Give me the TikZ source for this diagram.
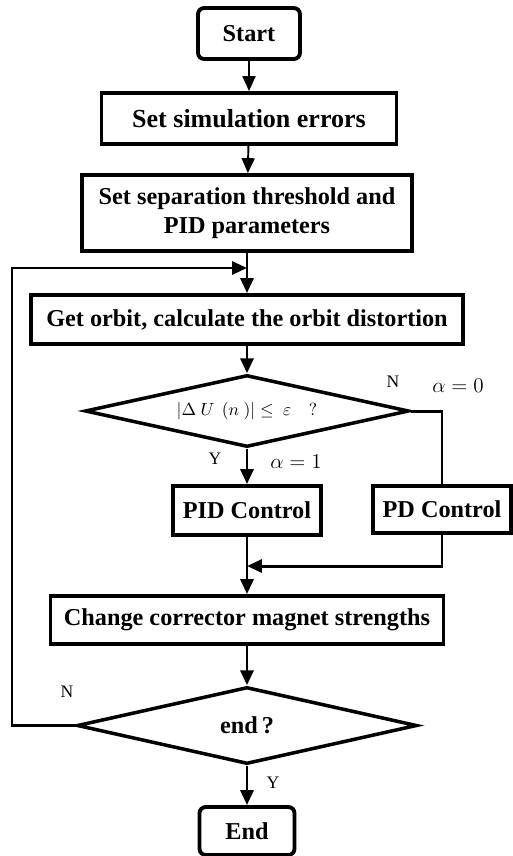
\documentclass[tikz,border=0pt]{standalone}
\usepackage{fontspec}
\setmainfont{Liberation Serif}
\usetikzlibrary{shapes.geometric,arrows.meta}

\begin{document}
\begin{tikzpicture}[x=0.02cm,y=-0.02cm,
    box/.style={draw, line width=2.2pt, inner sep=0pt, align=center,
        font=\fontsize{13.8}{16.5}\selectfont\bfseries},
    term/.style={box, rounded corners=3.5pt},
    cond/.style={diamond, draw, line width=2pt, inner sep=0pt, aspect=4.5},
    arr/.style={line width=1.7pt, -{Triangle[width=7.4pt,length=8.5pt]}},
    lbl/.style={font=\fontsize{10}{12}\selectfont},
    mlbl/.style={font=\fontsize{12.5}{14}\selectfont},
    ]
\useasboundingbox (0,0) rectangle (512,856);

% main column
\node[term, minimum width=2.04cm, minimum height=1.02cm] (start) at (249,33.5) {Start};
\node[box, minimum width=5.9cm, minimum height=1.02cm, font=\fontsize{14.8}{17}\selectfont\bfseries]
    (sim) at (249,118.5) {Set simulation errors};
\node[box, minimum width=6.6cm, minimum height=1.52cm] (thr) at (247,213)
    {Set separation threshold and\\PID parameters};
\node[box, minimum width=8.64cm, minimum height=0.98cm] (orbit) at (247,319.5)
    {Get orbit, calculate the orbit distortion};
\node[cond, minimum width=6.48cm, minimum height=1.44cm] (dec1) at (247,411)
    {\fontsize{10}{11}\selectfont$|\Delta\ U\ \,(n\ )|\le\ \varepsilon\quad ?$};
\node[box, minimum width=2.96cm, minimum height=0.98cm] (pid) at (247,510.5) {PID Control};
\node[box, minimum width=2.76cm, minimum height=0.94cm] (pd) at (442,509.5) {PD Control};
\node[box, minimum width=7.86cm, minimum height=0.96cm] (chg) at (247,620)
    {Change corrector magnet strengths};
\node[cond, minimum width=6.8cm, minimum height=1.54cm, font=\fontsize{13.8}{16}\selectfont\bfseries]
    (dec2) at (247,725.5) {end\,?};
\node[term, minimum width=1.9cm, minimum height=0.96cm] (end) at (247,831) {End};

% joints
\coordinate (j1) at (247,268);
\coordinate (j2) at (247,566);
\coordinate (lp) at (12,268);

% labels
\node[lbl] (n1) at (393,382) {N};
\node[mlbl] (a0) at (458,386) {$\alpha=0$};
\node[lbl] (y1) at (215,459) {Y};
\node[mlbl] (a1) at (296,462) {$\alpha=1$};
\node[lbl] (n2) at (67,692) {N};
\node[lbl] (y2) at (273,783) {Y};

% connectors
\draw[arr, line width=1.1pt] (start) -- (sim);
\draw[arr, line width=1.1pt] (sim) -- (thr);
\draw[arr] (thr) -- (orbit);
\draw[arr] (orbit) -- (dec1);
\draw[arr] (dec1) -- (pid);
\draw[arr] (pid) -- (chg);
\draw[arr] (chg) -- (dec2);
\draw[arr] (dec2) -- (end);
\draw[line width=1.7pt] (dec1.east) -| (pd.north);
\draw[arr] (pd.south) |- (j2);
\draw[arr] (dec2.west) -| (lp) -- (j1);
\end{tikzpicture}
\end{document}
